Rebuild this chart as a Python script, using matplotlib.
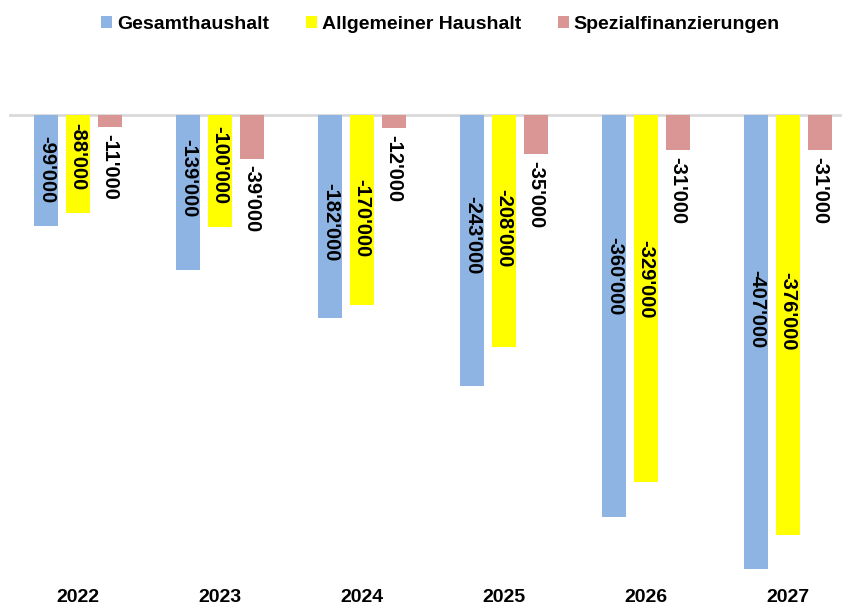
import numpy as np
import matplotlib.pyplot as plt

plt.rcParams['font.family'] = ['Liberation Sans', 'DejaVu Sans']
plt.rcParams['font.weight'] = 'bold'

years = ['2022', '2023', '2024', '2025', '2026', '2027']
series = ['Gesamthaushalt', 'Allgemeiner Haushalt', 'Spezialfinanzierungen']
gesamt = [-99, -139, -182, -243, -360, -407]          # in 1'000
allgemein = [-88, -100, -170, -208, -329, -376]
spezial = [-11, -39, -12, -35, -31, -31]

# where the labels sit inside the bars (label centre, in 1'000)
gesamt_lbl = [-49, -57, -96, -108, -144, -174]
allgemein_lbl = [-37, -45, -92, -101, -147, -176]

colors = ['#8EB4E3', '#FFFF00', '#D99694']


def fmt(v):
    return f"{int(v * 1000):,}".replace(',', "'")


fig = plt.figure(figsize=(8.47, 6.06), dpi=100)
ax = fig.add_axes([7 / 847, 0.0367, 852 / 847, 0.7735])

x = np.arange(len(years))
w = 0.169
off = 0.222

b1 = ax.bar(x - off, gesamt, w, color=colors[0], label=series[0])
b2 = ax.bar(x, allgemein, w, color=colors[1], label=series[1])
b3 = ax.bar(x + off, spezial, w, color=colors[2], label=series[2])

for xi, v, ly in zip(x - off, gesamt, gesamt_lbl):
    ax.text(xi, ly, fmt(v), rotation=270, ha='center', va='center',
            fontsize=14.5, fontweight='bold')
for xi, v, ly in zip(x, allgemein, allgemein_lbl):
    ax.text(xi, ly, fmt(v), rotation=270, ha='center', va='center',
            fontsize=14.5, fontweight='bold')
for xi, v in zip(x + off, spezial):
    ax.annotate(fmt(v), (xi, v), xytext=(0, -5), textcoords='offset points',
                rotation=270, ha='center', va='top',
                fontsize=14.5, fontweight='bold')

ax.axhline(0, xmin=3 / 852, xmax=833 / 852, color='#D9D9D9', lw=2,
           clip_on=False, zorder=0)

ax.set_xlim(-0.5, 5.5)
ax.set_ylim(-420, 0)
ax.set_xticks(x)
ax.set_xticklabels(years, fontsize=14, fontweight='bold')
ax.tick_params(axis='x', length=0, pad=4)
ax.set_yticks([])
for s in ax.spines.values():
    s.set_visible(False)

fig.legend(handles=[b1, b2, b3], loc='center', bbox_to_anchor=(0.52, 0.96),
           ncol=3, frameon=False, prop={'size': 14, 'weight': 'bold'},
           handlelength=0.57, handleheight=0.57, handletextpad=0.25,
           columnspacing=1.9, borderpad=0)

fig.savefig('out.png', dpi=100)
